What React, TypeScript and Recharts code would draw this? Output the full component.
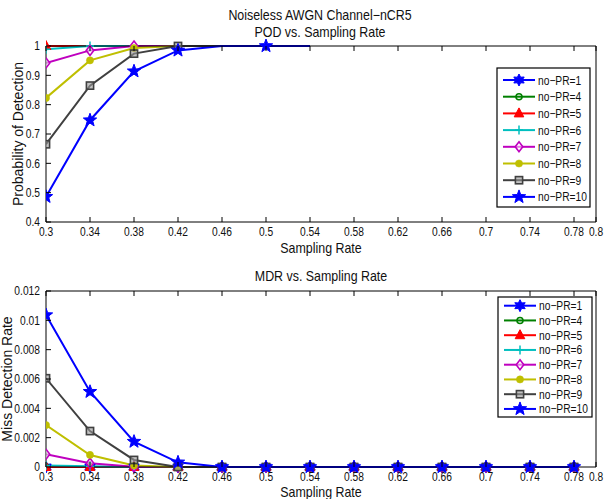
import React from 'react';
import { LineChart, Line, XAxis, YAxis } from 'recharts';

// ---------- data ----------
const seriesNames = ['no−PR=1', 'no−PR=4', 'no−PR=5', 'no−PR=6', 'no−PR=7', 'no−PR=8', 'no−PR=9', 'no−PR=10'];
const seriesKeys = ['pr1', 'pr4', 'pr5', 'pr6', 'pr7', 'pr8', 'pr9', 'pr10'];
const seriesColors = ['#0000FF', '#008000', '#FF0000', '#00BFBF', '#BF00BF', '#BFBF00', '#404040', '#0000FF'];
const seriesMarkers = ['hexagram', 'circle', 'triangle', 'plus', 'diamond', 'dot', 'square', 'star'];

const xTicks = [0.3, 0.34, 0.38, 0.42, 0.46, 0.5, 0.54, 0.58, 0.62, 0.66, 0.7, 0.74, 0.78, 0.8];
const podTicks = [0.4, 0.5, 0.6, 0.7, 0.8, 0.9, 1];
const mdrTicks = [0, 0.002, 0.004, 0.006, 0.008, 0.01, 0.012];

// POD vs sampling rate
const podRates = [0.3, 0.34, 0.38, 0.42, 0.46, 0.5, 0.54];
const podPR1 = [1, 1, 1, 1, 1, 1, 1];
const podPR4 = [1, 1, 1, 1, 1, 1, 1];
const podPR5 = [1, 1, 1, 1, 1, 1, 1];
const podPR6 = [0.989, 1, 1, 1, 1, 1, 1];
const podPR7 = [0.942, 0.985, 1, 1, 1, 1, 1];
const podPR8 = [0.823, 0.951, 0.993, 1, 1, 1, 1];
const podPR9 = [0.665, 0.865, 0.974, 1, 1, 1, 1];
const podPR10 = [0.486, 0.747, 0.914, 0.985, 1, 1, 1];
// which points carry a visible marker in the POD plot
const podMarkerIdx: number[][] = [[], [], [0], [0, 1], [0, 1, 2], [0, 1, 2], [0, 1, 2, 3], [0, 1, 2, 3, 5]];

// MDR vs sampling rate
const mdrRates = [0.3, 0.34, 0.38, 0.42, 0.46, 0.5, 0.54, 0.58, 0.62, 0.66, 0.7, 0.74, 0.78];
const mdrPR1 = [0, 0, 0, 0, 0, 0, 0, 0, 0, 0, 0, 0, 0];
const mdrPR4 = [0, 0, 0, 0, 0, 0, 0, 0, 0, 0, 0, 0, 0];
const mdrPR5 = [0, 0, 0, 0, 0, 0, 0, 0, 0, 0, 0, 0, 0];
const mdrPR6 = [0.0001, 0.00005, 0, 0, 0, 0, 0, 0, 0, 0, 0, 0, 0];
const mdrPR7 = [0.00087, 0.00025, 0.00002, 0, 0, 0, 0, 0, 0, 0, 0, 0, 0];
const mdrPR8 = [0.00286, 0.00082, 0.0001, 0, 0, 0, 0, 0, 0, 0, 0, 0, 0];
const mdrPR9 = [0.00605, 0.00245, 0.00048, 0, 0, 0, 0, 0, 0, 0, 0, 0, 0];
const mdrPR10 = [0.01036, 0.00513, 0.00173, 0.00032, 0, 0, 0, 0, 0, 0, 0, 0, 0];

const podSeries = [podPR1, podPR4, podPR5, podPR6, podPR7, podPR8, podPR9, podPR10];
const mdrSeries = [mdrPR1, mdrPR4, mdrPR5, mdrPR6, mdrPR7, mdrPR8, mdrPR9, mdrPR10];

const podData = podRates.map((x, i) => {
  const row: any = { x };
  seriesKeys.forEach((k, s) => (row[k] = podSeries[s][i]));
  return row;
});
const mdrData = mdrRates.map((x, i) => {
  const row: any = { x };
  seriesKeys.forEach((k, s) => (row[k] = mdrSeries[s][i]));
  return row;
});

// ---------- styling ----------
const SANS = "'Liberation Sans', Arial, sans-serif";
const HS = 0.82; // horizontal squeeze of the reference's small text
const TITLE_HS = 0.9;
const TITLE_FS = 13.8;
const TICK_FS = 12.5;
const TICK_MARGIN = 5;
const TICK_LEN = 5;

function SText({ x, y, anchor = 'start', size, children, dy = '0.36em', hs = HS }: any) {
  return (
    <text
      transform={`translate(${x},${y}) scale(${hs},1)`}
      x={0}
      y={0}
      dy={dy}
      textAnchor={anchor}
      fontSize={size}
      fontFamily={SANS}
      fill="#111"
    >
      {children}
    </text>
  );
}

function starPoints(cx: number, cy: number, n: number, ro: number, ri: number) {
  const pts: string[] = [];
  for (let i = 0; i < n * 2; i++) {
    const r = i % 2 === 0 ? ro : ri;
    const a = -Math.PI / 2 + (i * Math.PI) / n;
    pts.push(`${cx + r * Math.cos(a)},${cy + r * Math.sin(a)}`);
  }
  return pts.join(' ');
}

function Marker({ type, cx, cy, color }: { type: string; cx: number; cy: number; color: string }) {
  switch (type) {
    case 'hexagram':
      return <polygon points={starPoints(cx, cy, 6, 6, 3.2)} fill={color} stroke={color} strokeWidth={1} />;
    case 'circle':
      return <circle cx={cx} cy={cy} r={3} fill="none" stroke={color} strokeWidth={1.6} />;
    case 'triangle':
      return <polygon points={`${cx},${cy - 5.5} ${cx - 4.8},${cy + 3.5} ${cx + 4.8},${cy + 3.5}`} fill={color} stroke={color} strokeWidth={1} />;
    case 'plus':
      return (
        <g stroke={color} strokeWidth={1.5}>
          <line x1={cx - 4} x2={cx + 4} y1={cy} y2={cy} />
          <line x1={cx} x2={cx} y1={cy - 4.5} y2={cy + 4.5} />
        </g>
      );
    case 'diamond':
      return <polygon points={`${cx},${cy - 5} ${cx + 3.8},${cy} ${cx},${cy + 5} ${cx - 3.8},${cy}`} fill="#fff" fillOpacity={0.5} stroke={color} strokeWidth={1.6} />;
    case 'dot':
      return <circle cx={cx} cy={cy} r={3.6} fill={color} stroke={color} strokeWidth={0.5} />;
    case 'square':
      return <rect x={cx - 3.6} y={cy - 3.6} width={7.2} height={7.2} fill="#9a9a9a" fillOpacity={0.6} stroke={color} strokeWidth={1.6} />;
    case 'star':
    default:
      return <polygon points={starPoints(cx, cy, 5, 7, 2.9)} fill={color} stroke={color} strokeWidth={1} />;
  }
}

function BottomTick(props: any) {
  const { x, y, payload } = props;
  const ay = y - TICK_MARGIN;
  return (
    <g>
      <line x1={x} x2={x} y1={ay} y2={ay - TICK_LEN} stroke="#000" strokeWidth={1} />
      <SText x={x} y={y} anchor="middle" size={TICK_FS} dy="0.71em">
        {String(payload.value)}
      </SText>
    </g>
  );
}
function TopTick(props: any) {
  const { x, y } = props;
  return <line x1={x} x2={x} y1={y} y2={y + TICK_LEN} stroke="#000" strokeWidth={1} />;
}
function LeftTick(props: any) {
  const { x, y, payload } = props;
  const ax = x + TICK_MARGIN;
  return (
    <g>
      <line x1={ax} x2={ax + TICK_LEN} y1={y} y2={y} stroke="#000" strokeWidth={1} />
      <SText x={x - 1} y={y} anchor="end" size={TICK_FS} dy="0.355em">
        {String(payload.value)}
      </SText>
    </g>
  );
}
function RightTick(props: any) {
  const { x, y } = props;
  return <line x1={x} x2={x - TICK_LEN} y1={y} y2={y} stroke="#000" strokeWidth={1} />;
}

function makeDot(s: number, visible: number[] | null) {
  return (p: any) => {
    const { cx, cy, index } = p;
    if (cx == null || cy == null || (visible && !visible.includes(index))) return <g key={`d-${s}-${index}`} />;
    return (
      <g key={`d-${s}-${index}`}>
        <Marker type={seriesMarkers[s]} cx={cx} cy={cy} color={seriesColors[s]} />
      </g>
    );
  };
}

function Panel({ data, yDomain, yTicks, height, margin, markerIdx }: any) {
  return (
    <LineChart width={615} height={height} data={data} margin={margin}>
      <XAxis
        dataKey="x"
        type="number"
        domain={[0.3, 0.8]}
        ticks={xTicks}
        interval={0}
        height={1}
        tickSize={0}
        tickMargin={TICK_MARGIN}
        tickLine={false}
        axisLine={{ stroke: '#000', strokeWidth: 1 }}
        tick={<BottomTick />}
        allowDataOverflow
      />
      <XAxis
        xAxisId="top"
        orientation="top"
        dataKey="x"
        type="number"
        domain={[0.3, 0.8]}
        ticks={xTicks}
        interval={0}
        height={1}
        tickSize={0}
        tickMargin={0}
        tickLine={false}
        axisLine={{ stroke: '#000', strokeWidth: 1 }}
        tick={<TopTick />}
        allowDataOverflow
      />
      <YAxis
        type="number"
        domain={yDomain}
        ticks={yTicks}
        interval={0}
        width={1}
        tickSize={0}
        tickMargin={TICK_MARGIN}
        tickLine={false}
        axisLine={{ stroke: '#000', strokeWidth: 1 }}
        tick={<LeftTick />}
      />
      <YAxis
        yAxisId="right"
        orientation="right"
        type="number"
        domain={yDomain}
        ticks={yTicks}
        interval={0}
        width={1}
        tickSize={0}
        tickMargin={0}
        tickLine={false}
        axisLine={{ stroke: '#000', strokeWidth: 1 }}
        tick={<RightTick />}
      />
      {seriesKeys.map((k, s) => (
        <Line
          key={k}
          dataKey={k}
          name={seriesNames[s]}
          stroke={seriesColors[s]}
          strokeWidth={2}
          isAnimationActive={false}
          dot={makeDot(s, markerIdx ? markerIdx[s] : null)}
          activeDot={false}
          connectNulls={false}
        />
      ))}
    </LineChart>
  );
}

function LegendBox({ left, top, width, height, first, gap }: any) {
  return (
    <svg
      width={width + 2}
      height={height + 2}
      style={{ position: 'absolute', left: left - 1, top: top - 1, overflow: 'visible' }}
    >
      <rect x={1} y={1} width={width} height={height} fill="#fff" stroke="#000" strokeWidth={1.2} />
      {seriesNames.map((n, s) => {
        const cy = 1 + first + s * gap;
        return (
          <g key={n}>
            <line x1={7} x2={39} y1={cy} y2={cy} stroke={seriesColors[s]} strokeWidth={2} />
            <Marker type={seriesMarkers[s]} cx={23} cy={cy} color={seriesColors[s]} />
            <SText x={42} y={cy} size={12.5}>
              {n}
            </SText>
          </g>
        );
      })}
    </svg>
  );
}

export default function App() {
  return (
    <div style={{ position: 'absolute', left: 0, top: 0, width: 615, height: 499, background: '#fff', overflow: 'hidden' }}>
      <div style={{ position: 'absolute', left: 0, top: 0 }}>
        <Panel
          data={podData}
          yDomain={[0.4, 1]}
          yTicks={podTicks}
          height={250}
          margin={{ top: 45, right: 18, bottom: 27, left: 45 }}
          markerIdx={podMarkerIdx}
        />
      </div>
      <div style={{ position: 'absolute', left: 0, top: 250 }}>
        <Panel
          data={mdrData}
          yDomain={[0, 0.012]}
          yTicks={mdrTicks}
          height={249}
          margin={{ top: 40, right: 18, bottom: 31, left: 45 }}
          markerIdx={null}
        />
      </div>
      <svg width={615} height={499} style={{ position: 'absolute', left: 0, top: 0, pointerEvents: 'none' }}>
        <SText x={320} y={15} anchor="middle" size={TITLE_FS} hs={TITLE_HS}>Noiseless AWGN Channel−nCR5</SText>
        <SText x={320} y={32} anchor="middle" size={TITLE_FS} hs={TITLE_HS}>POD vs. Sampling Rate</SText>
        <SText x={321} y={276} anchor="middle" size={TITLE_FS} hs={TITLE_HS}>MDR vs. Sampling Rate</SText>
        <SText x={321} y={248} anchor="middle" size={TITLE_FS} hs={TITLE_HS}>Sampling Rate</SText>
        <SText x={321} y={492} anchor="middle" size={TITLE_FS} hs={TITLE_HS}>Sampling Rate</SText>
        <g fontFamily={SANS} fontSize={14} fill="#111" textAnchor="middle">
          <text transform="translate(18,134) rotate(-90)" dy="0.36em">Probability of Detection</text>
          <text transform="translate(7,379) rotate(-90)" dy="0.36em">Miss Detection Rate</text>
        </g>
      </svg>
      <LegendBox left={497} top={68} width={93} height={139} first={12} gap={16.7} />
      <LegendBox left={498} top={297} width={94} height={120} first={8.7} gap={14.75} />
    </div>
  );
}
